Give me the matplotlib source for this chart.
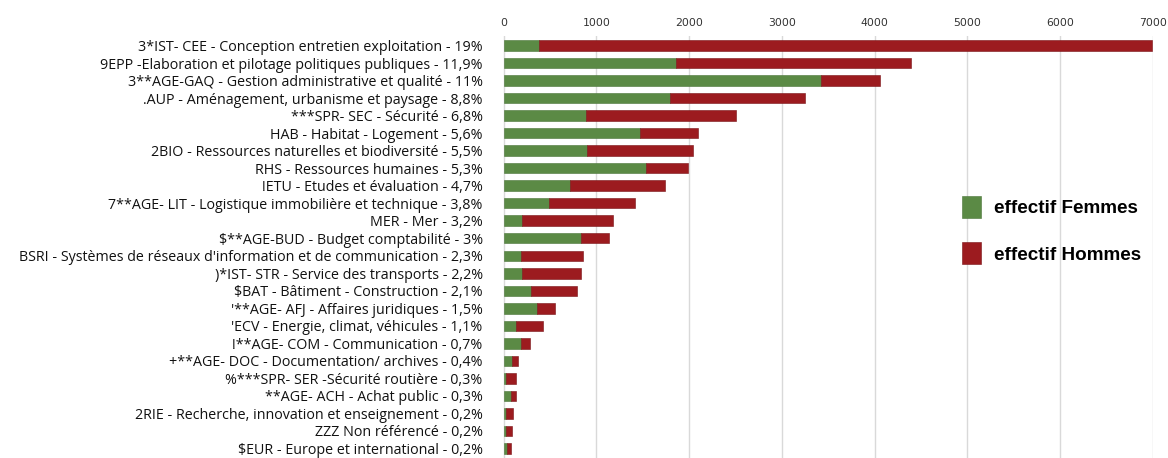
import numpy as np
import matplotlib.pyplot as plt

# the data
domaines = [
    "3*IST- CEE - Conception entretien exploitation - 19%",
    "9EPP -Elaboration et pilotage politiques publiques - 11,9%",
    "3**AGE-GAQ - Gestion administrative et qualité - 11%",
    ".AUP - Aménagement, urbanisme et paysage - 8,8%",
    "***SPR- SEC - Sécurité - 6,8%",
    "HAB - Habitat - Logement - 5,6%",
    "2BIO - Ressources naturelles et biodiversité - 5,5%",
    "RHS - Ressources humaines - 5,3%",
    "!ETU - Etudes et évaluation - 4,7%",
    "7**AGE- LIT - Logistique immobilière et technique - 3,8%",
    "MER - Mer - 3,2%",
    "$**AGE-BUD - Budget comptabilité - 3%",
    "BSRI - Systèmes de réseaux d'information et de communication - 2,3%",
    ")*IST- STR - Service des transports - 2,2%",
    "$BAT - Bâtiment - Construction - 2,1%",
    "'**AGE- AFJ - Affaires juridiques - 1,5%",
    "'ECV - Energie, climat, véhicules - 1,1%",
    "!**AGE- COM - Communication - 0,7%",
    "+**AGE- DOC - Documentation/ archives - 0,4%",
    "%***SPR- SER -Sécurité routière - 0,3%",
    "**AGE- ACH - Achat public - 0,3%",
    "2RIE - Recherche, innovation et enseignement - 0,2%",
    "ZZZ Non référencé - 0,2%",
    "$EUR - Europe et international - 0,2%",
]
femmes = [380, 1860, 3420, 1790, 890, 1475, 895, 1530, 715, 485, 200, 830,
          190, 200, 295, 360, 135, 185, 95, 30, 80, 30, 28, 38]
total = [6990, 4390, 4060, 3245, 2510, 2095, 2040, 1985, 1745, 1420, 1180, 1135,
         855, 830, 790, 550, 420, 280, 160, 130, 130, 100, 90, 85]
hommes = [t - f for t, f in zip(total, femmes)]

vert = '#5b8a45'
rouge = '#9c1b1f'

fig = plt.figure(figsize=(11.68, 4.58), dpi=100)
ax = fig.add_axes([498 / 1168, 0.0, (1153 - 498) / 1168, 1 - 36 / 458])

ind = np.arange(len(domaines))
h = 0.6
b1 = ax.barh(ind, femmes, h, color=vert, edgecolor='#4a7438', linewidth=0.4, zorder=3)
b2 = ax.barh(ind, hommes, h, left=femmes, color=rouge, edgecolor='#7a1216',
             linewidth=0.4, zorder=3)

# axes and labels
ax.set_xlim(-60, 7000)
ax.set_ylim(23.55, -0.55)
ax.set_xticks(np.arange(0, 7001, 1000))
ax.xaxis.tick_top()
ax.tick_params(axis='x', length=0, labelsize=7.8, labelcolor='#333333', pad=6)
ax.set_yticks(ind)
ax.set_yticklabels(domaines, fontsize=10.3, family='Open Sans', color='#111111')
ax.tick_params(axis='y', length=0, pad=11)
ax.grid(axis='x', color='#d9d9d9', linewidth=1, zorder=0)
for s in ax.spines.values():
    s.set_visible(False)

# legend
ax.legend((b1[0], b2[0]), ('effectif Femmes', 'effectif Hommes'),
          loc='center left', bbox_to_anchor=(0.683, 0.54), frameon=False,
          prop={'family': 'Liberation Sans', 'weight': 'bold', 'size': 13.6},
          handlelength=1.0, handleheight=1.4, handletextpad=0.7, labelspacing=1.3)

fig.savefig('out.png', dpi=100)
